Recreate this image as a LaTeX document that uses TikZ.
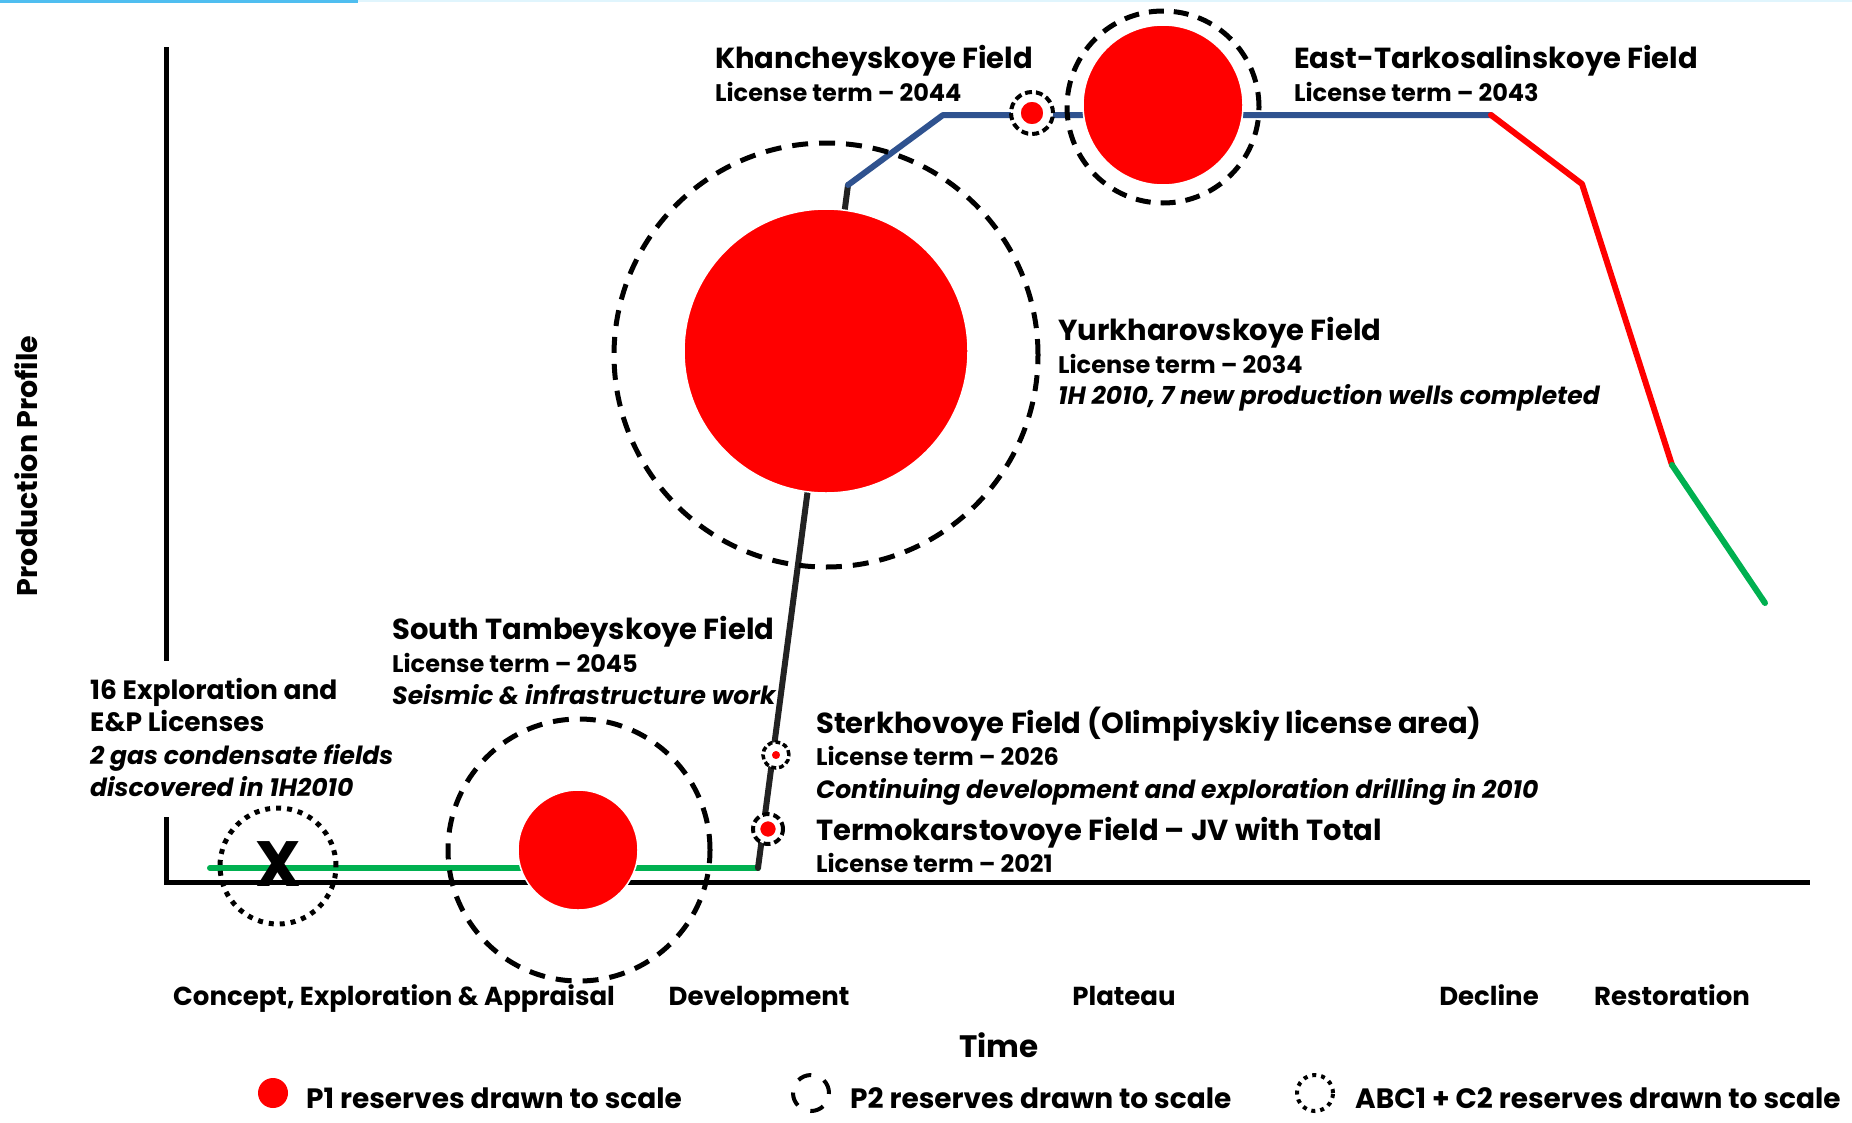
\documentclass[tikz,border=0pt]{standalone}
\usepackage{fontspec}
\setmainfont{Poppins}
\usetikzlibrary{positioning}

\definecolor{prodgreen}{RGB}{0,176,80}
\definecolor{prodblue}{RGB}{47,82,143}
\definecolor{prodblack}{RGB}{34,34,34}
\definecolor{topstrip}{RGB}{79,190,240}

\begin{document}
\begin{tikzpicture}[
    x=1pt, y=-1pt,
    title/.style={anchor=base west, inner sep=0pt, font=\fontsize{29}{34}\selectfont\bfseries},
    term/.style={anchor=base west, inner sep=0pt, font=\fontsize{24}{28}\selectfont\bfseries},
    note/.style={term, font=\fontsize{25}{28}\selectfont\bfseries\itshape},
    small/.style={anchor=base west, inner sep=0pt, font=\fontsize{26.5}{30}\selectfont\bfseries},
    stage/.style={anchor=base, inner sep=0pt, font=\fontsize{26}{30}\selectfont\bfseries},
    legend/.style={anchor=base west, inner sep=0pt, font=\fontsize{28}{32}\selectfont\bfseries},
    pone/.style={circle, fill=red, draw=white, line width=1.5pt, inner sep=0pt, minimum size=#1},
    ptwo/.style={circle, draw=black, line width=5pt, dash pattern=on 16pt off 11pt, inner sep=0pt, minimum size=#1},
    psmall/.style={circle, draw=black, fill=white, line width=4pt, dash pattern=on 7pt off 4pt, inner sep=0pt, minimum size=#1},
    abc/.style={circle, draw=black, line width=5pt, dash pattern=on 5pt off 6pt, inner sep=0pt, minimum size=#1},
    profile/.style={line width=6pt, line cap=round, line join=round},
]
\useasboundingbox (0,0) rectangle (1852,1122);
\fill[cyan!12!white] (0,0) rectangle (1852,2);
\fill[topstrip] (0,0) rectangle (358,2.5);

% axes
\coordinate (ytop)    at (166,47);
\coordinate (ybreak)  at (166,661);
\coordinate (yresume) at (166,817);
\coordinate (origin)  at (166,882);
\coordinate (xend)    at (1810,882);
\draw[line width=5pt] (ytop) -- (ybreak);
\draw[line width=5pt] (yresume) -- (origin) -- (xend);

% production profile
\coordinate (c0) at (210,868);
\coordinate (c1) at (758,868);
\coordinate (c2) at (848,185);
\coordinate (c3) at (943,115);
\coordinate (c4) at (1491,115);
\coordinate (c5) at (1582,184);
\coordinate (c6) at (1672,465);
\coordinate (c7) at (1765,603);

\draw[profile, prodgreen] (c0) -- (c1);
\draw[profile, prodblack] (c1) -- (c2);
\draw[profile, prodblue]  (c2) -- (c3) -- (c4);
\draw[profile, red]       (c4) -- (c5) -- (c6);
\draw[profile, prodgreen] (c6) -- (c7);

% reserves
\node[ptwo=424pt]   (yurkP2)  at (826,355)  {};
\node[pone=284pt]   (yurkP1)  at (826,351)  {};
\node[ptwo=192pt, dash pattern=on 15pt off 10pt] (eastP2) at (1163,107) {};
\node[pone=160pt]   (eastP1)  at (1163,105) {};
\node[psmall=42pt]  (khanP2)  at (1032,113) {};
\node[pone=24pt]    (khanP1)  at (1032,113) {};
\node[ptwo=262pt]   (southP2) at (579,850)  {};
\node[pone=120pt]   (southP1) at (578,850)  {};
\node[psmall=26pt, line width=3.5pt, dash pattern=on 5pt off 3pt] (sterkP2) at (776,755) {};
\node[pone=10pt]    (sterkP1) at (776,755)  {};
\node[psmall=30pt]  (termoP2) at (768,829)  {};
\node[pone=17pt]    (termoP1) at (768,829)  {};
\node[abc=116pt]    (licABC)  at (278,866)  {};
\node[font=\fontsize{64}{64}\selectfont\bfseries, inner sep=0pt] (licX) at (278,864) {X};

% field labels
\node[title] (khanTitle) at (715,68)  {Khancheyskoye Field};
\node[term]  (khanTerm)  at (715,101) {License term – 2044};

\node[title] (eastTitle) at (1294,68)  {East-Tarkosalinskoye Field};
\node[term]  (eastTerm)  at (1294,101) {License term – 2043};

\node[title] (yurkTitle) at (1058,340) {Yurkharovskoye Field};
\node[term]  (yurkTerm)  at (1058,373) {License term – 2034};
\node[note]  (yurkNote)  at (1058,404) {1H 2010, 7 new production wells completed};

\node[title] (southTitle) at (392,639) {South Tambeyskoye Field};
\node[term]  (southTerm)  at (392,672) {License term – 2045};
\node[note]  (southNote)  at (392,704) {Seismic \& infrastructure work};

\node[small] (licTitleA) at (90,699) {16 Exploration and};
\node[small] (licTitleB) at (90,731) {E\&P Licenses};
\node[note]  (licNoteA)  at (90,764) {2 gas condensate fields};
\node[note]  (licNoteB)  at (90,796) {discovered in 1H2010};

\node[title] (sterkTitle) at (816,733) {Sterkhovoye Field (Olimpiyskiy license area)};
\node[term]  (sterkTerm)  at (816,765) {License term – 2026};
\node[note]  (sterkNote)  at (816,798) {Continuing development and exploration drilling in 2010};

\node[title] (termoTitle) at (816,840) {Termokarstovoye Field – JV with Total};
\node[term]  (termoTerm)  at (816,872) {License term – 2021};

% stages
\node[stage] (stConcept) at (394,1005)  {Concept, Exploration \& Appraisal};
\node[stage] (stDev)     at (759,1005)  {Development};
\node[stage] (stPlateau) at (1124,1005) {Plateau};
\node[stage] (stDecline) at (1489,1005) {Decline};
\node[stage] (stRestore) at (1672,1005) {Restoration};

\node[stage, font=\fontsize{31}{34}\selectfont\bfseries] (axTime) at (999,1057) {Time};
\node[font=\fontsize{28.5}{30}\selectfont\bfseries, rotate=90, inner sep=0pt] (axProfile) at (26,466) {Production Profile};

% legend
\node[pone=30pt, draw=none] (legP1) at (273,1093) {};
\node[legend] (legP1Text) at (306,1108) {P1 reserves drawn to scale};
\node[circle, draw=black, line width=4pt, dash pattern=on 14pt off 14pt, inner sep=0pt, minimum size=36pt] (legP2) at (811,1093) {};
\node[legend] (legP2Text) at (850,1108) {P2 reserves drawn to scale};
\node[abc=36pt, line width=4pt, dash pattern=on 4pt off 5pt] (legABC) at (1315,1093) {};
\node[legend] (legABCText) at (1355,1108) {ABC1 + C2 reserves drawn to scale};
\end{tikzpicture}
\end{document}
